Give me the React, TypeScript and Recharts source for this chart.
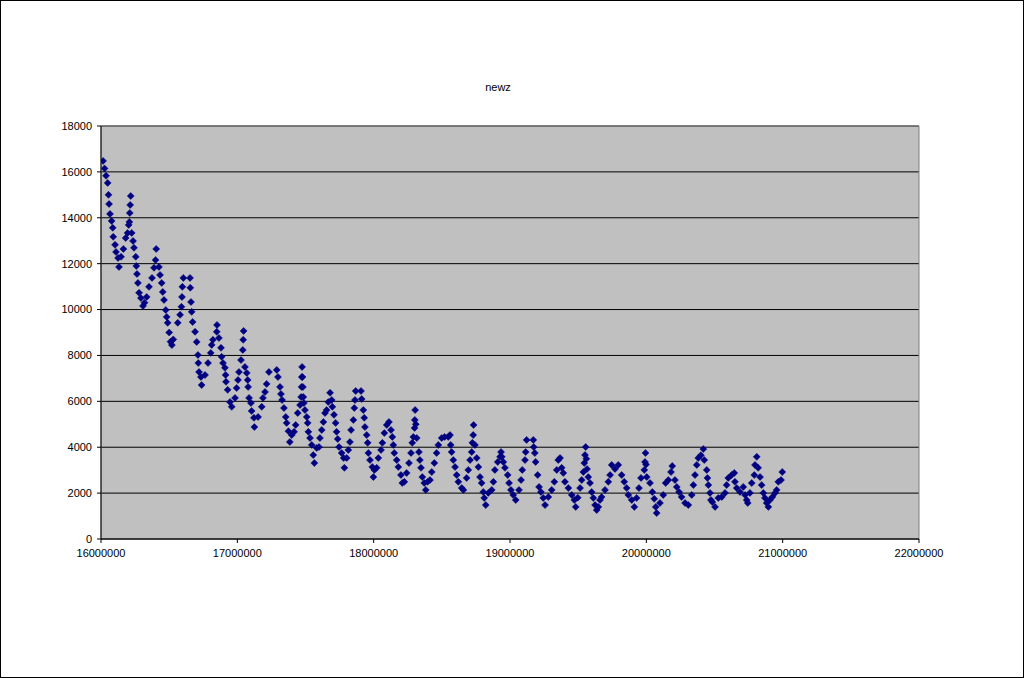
import { CartesianGrid, ReferenceArea, Scatter, ScatterChart, XAxis, YAxis } from "recharts";

// positions along the x axis
const xs = [
  16015000, 16026000, 16037000, 16049000, 16055000, 16059000, 16066000, 16078000, 16086000, 16090000,
  16103000, 16110000, 16125000, 16132000, 16147000, 16164000, 16181000, 16195000, 16203000, 16208000,
  16211000, 16214000, 16218000, 16225000, 16235000, 16242000, 16255000, 16259000, 16264000, 16271000,
  16279000, 16293000, 16308000, 16319000, 16335000, 16352000, 16374000, 16389000, 16400000, 16405000,
  16425000, 16433000, 16445000, 16453000, 16462000, 16475000, 16482000, 16489000, 16500000, 16510000,
  16520000, 16530000, 16563000, 16580000, 16590000, 16594000, 16597000, 16604000, 16653000, 16655000,
  16660000, 16665000, 16672000, 16690000, 16702000, 16711000, 16714000, 16719000, 16733000, 16738000,
  16763000, 16785000, 16805000, 16812000, 16821000, 16849000, 16851000, 16865000, 16880000, 16885000,
  16895000, 16909000, 16914000, 16917000, 16929000, 16946000, 16959000, 16983000, 16995000, 17005000,
  17012000, 17027000, 17040000, 17043000, 17046000, 17056000, 17069000, 17076000, 17079000, 17086000,
  17100000, 17105000, 17122000, 17125000, 17152000, 17179000, 17188000, 17203000, 17215000, 17232000,
  17289000, 17298000, 17313000, 17320000, 17328000, 17342000, 17355000, 17362000, 17375000, 17385000,
  17399000, 17416000, 17428000, 17443000, 17460000, 17468000, 17471000, 17473000, 17475000, 17478000,
  17481000, 17484000, 17488000, 17496000, 17509000, 17516000, 17521000, 17533000, 17546000, 17557000,
  17565000, 17582000, 17599000, 17606000, 17619000, 17631000, 17643000, 17655000, 17667000, 17680000,
  17692000, 17697000, 17709000, 17721000, 17728000, 17736000, 17746000, 17765000, 17780000, 17785000,
  17802000, 17814000, 17826000, 17834000, 17851000, 17858000, 17863000, 17868000, 17907000, 17912000,
  17924000, 17931000, 17936000, 17949000, 17956000, 17961000, 17973000, 17990000, 17998000, 18005000,
  18022000, 18034000, 18054000, 18064000, 18078000, 18096000, 18112000, 18127000, 18137000, 18144000,
  18151000, 18169000, 18181000, 18200000, 18210000, 18225000, 18242000, 18259000, 18274000, 18283000,
  18291000, 18300000, 18302000, 18304000, 18309000, 18316000, 18332000, 18339000, 18347000, 18357000,
  18371000, 18382000, 18396000, 18413000, 18426000, 18445000, 18462000, 18474000, 18499000, 18520000,
  18547000, 18560000, 18565000, 18572000, 18584000, 18597000, 18609000, 18621000, 18646000, 18658000,
  18682000, 18694000, 18707000, 18719000, 18724000, 18730000, 18733000, 18743000, 18756000, 18768000,
  18780000, 18792000, 18804000, 18811000, 18822000, 18841000, 18866000, 18878000, 18889000, 18910000,
  18927000, 18934000, 18940000, 18951000, 18963000, 18983000, 18993000, 19007000, 19024000, 19042000,
  19066000, 19081000, 19090000, 19110000, 19115000, 19122000, 19171000, 19174000, 19182000, 19188000,
  19203000, 19213000, 19227000, 19244000, 19257000, 19281000, 19306000, 19325000, 19343000, 19354000,
  19367000, 19379000, 19391000, 19403000, 19428000, 19453000, 19472000, 19482000, 19497000, 19514000,
  19526000, 19538000, 19545000, 19550000, 19555000, 19560000, 19565000, 19574000, 19587000, 19599000,
  19611000, 19624000, 19636000, 19648000, 19660000, 19672000, 19697000, 19721000, 19734000, 19746000,
  19770000, 19794000, 19819000, 19838000, 19856000, 19868000, 19893000, 19912000, 19929000, 19946000,
  19961000, 19985000, 19990000, 19994000, 19998000, 20003000, 20027000, 20044000, 20058000, 20069000,
  20076000, 20100000, 20124000, 20142000, 20161000, 20181000, 20190000, 20210000, 20223000, 20240000,
  20259000, 20284000, 20308000, 20333000, 20345000, 20357000, 20370000, 20381000, 20400000, 20418000,
  20425000, 20443000, 20448000, 20455000, 20467000, 20474000, 20484000, 20504000, 20528000, 20553000,
  20577000, 20589000, 20601000, 20626000, 20645000, 20650000, 20663000, 20687000, 20711000, 20724000,
  20736000, 20744000, 20760000, 20773000, 20792000, 20797000, 20810000, 20820000, 20834000, 20846000,
  20858000, 20870000, 20883000, 20895000, 20907000, 20924000, 20944000, 20956000, 20968000, 20988000,
  20997000,
];

// newz values, same order as xs
const newz = [
  16480, 16150, 15830, 15520, 15000, 14600, 14170, 13860, 13560, 13170,
  12820, 12510, 12250, 11860, 12300, 12640, 13120, 13340, 13690, 13820,
  14210, 14560, 14950, 13340, 12990, 12690, 12300, 11900, 11550, 11160,
  10730, 10500, 10160, 10300, 10550, 10990, 11380, 11820, 12160, 12640,
  11860, 11510, 11160, 10770, 10420, 9980, 9680, 9420, 9000, 8600,
  8450, 8700, 9420, 9770, 10120, 10550, 10990, 11380, 11380, 10950,
  10330, 9900, 9460, 9030, 8590, 8020, 7670, 7280, 7060, 6710,
  7150, 7670, 8110, 8460, 8680, 9030, 9330, 8760, 8330, 7940,
  7670, 7460, 7150, 6850, 6500, 5970, 5760, 6150, 6580, 6930,
  7280, 7800, 8240, 8680, 9070, 7500, 7240, 6930, 6630, 6150,
  5930, 5580, 5280, 4880, 5320, 5760, 6150, 6410, 6760, 7280,
  7370, 7060, 6630, 6320, 6060, 5710, 5320, 5060, 4700, 4230,
  4530, 4670, 4970, 5490, 5840, 6190, 6630, 7060, 7500, 7060,
  6630, 6190, 5930, 5620, 5320, 5060, 4670, 4400, 4100, 3660,
  3310, 3970, 4010, 4400, 4750, 5100, 5490, 5620, 5970, 6370,
  6060, 5760, 5410, 5060, 4670, 4360, 4010, 3750, 3530, 3100,
  3530, 3880, 4230, 4750, 5190, 5710, 6060, 6450, 6450, 6100,
  5620, 5280, 4880, 4530, 4190, 3750, 3440, 3140, 2700, 3010,
  3100, 3530, 3880, 4190, 4620, 4970, 5100, 4750, 4450, 4100,
  3750, 3440, 3140, 2790, 2440, 2490, 2880, 3310, 3750, 4190,
  4450, 4840, 5190, 5620, 5000, 4400, 3790, 3440, 3100, 2700,
  2440, 2140, 2490, 2570, 2920, 3310, 3750, 4100, 4400, 4450,
  4450, 4530, 4100, 3790, 3440, 3140, 2790, 2490, 2220, 2140,
  2660, 3010, 3440, 3790, 4190, 4530, 4970, 4100, 3530, 3140,
  2700, 2440, 2050, 1790, 1480, 2010, 2140, 2490, 3010, 3360,
  3580, 3790, 3580, 3360, 3100, 2790, 2440, 2140, 1920, 1700,
  2140, 2570, 3010, 3440, 3790, 4320, 4320, 4010, 3750, 3360,
  2790, 2270, 2050, 1790, 1480, 1830, 2140, 2490, 3010, 3440,
  3530, 3100, 2880, 2490, 2220, 1920, 1700, 1400, 1800, 2220,
  2570, 2920, 3310, 3660, 4010, 3500, 3050, 2700, 2440, 2050,
  1790, 1480, 1260, 1400, 1700, 1830, 2140, 2490, 2790, 3230,
  3050, 3230, 2790, 2490, 2220, 1920, 1700, 1400, 1790, 2220,
  2660, 3010, 3360, 3750, 3250, 2700, 2440, 2050, 1750, 1400,
  1130, 1570, 1920, 2440, 2570, 2920, 3180, 2570, 2270, 2050,
  1830, 1570, 1480, 1920, 2350, 2790, 3230, 3530, 3650, 3920,
  3440, 3010, 2660, 2350, 2010, 1700, 1610, 1400, 1790, 1830,
  2010, 2350, 2660, 2790, 2880, 2490, 2220, 2050, 2270, 1920,
  1700, 1570, 2010, 2440, 2790, 3230, 3580, 3100, 2700, 2350,
  2010, 1790, 1570, 1400, 1700, 1830, 2010, 2140, 2490, 2570,
  2920,
];

const xTicks = [16000000, 17000000, 18000000, 19000000, 20000000, 21000000, 22000000];
const yTicks = [0, 2000, 4000, 6000, 8000, 10000, 12000, 14000, 16000, 18000];

const points = xs.map((x, i) => ({ x, y: newz[i] }));

const tickStyle = { fill: "#000", fontSize: 11, fontFamily: "'Liberation Sans', Arial, sans-serif" };

// excel-ish diamond marker
const Diamond = (props: any) => {
  const { cx, cy } = props;
  if (cx == null || cy == null) return null;
  const r = 3.5;
  return (
    <polygon
      points={`${cx},${cy - r} ${cx + r},${cy} ${cx},${cy + r} ${cx - r},${cy}`}
      fill="#000080"
      stroke="#000080"
      strokeWidth={0.5}
    />
  );
};

export default function App() {
  return (
    <div
      style={{
        position: "absolute",
        left: 0,
        top: 0,
        width: 1024,
        height: 678,
        background: "#fff",
        border: "1px solid #000",
        boxSizing: "border-box",
        fontFamily: "'Liberation Sans', Arial, sans-serif"
      }}
    >
      <div
        style={{
          position: "absolute",
          left: 0,
          width: 994,
          top: 80,
          textAlign: "center",
          fontSize: 11,
          color: "#000"
        }}
      >
        newz
      </div>
      <div style={{ position: "absolute", left: -1, top: -1 }}>
        <ScatterChart width={1024} height={678} margin={{ top: 126, right: 105, left: 41, bottom: 109 }}>
          <CartesianGrid
            vertical={false}
            stroke="#000"
            strokeWidth={1}
            fill="#C0C0C0"
            fillOpacity={1}
          />
          <XAxis
            dataKey="x"
            type="number"
            domain={[16000000, 22000000]}
            ticks={xTicks}
            allowDataOverflow
            height={30}
            tickSize={4}
            tickMargin={6}
            tick={tickStyle}
            stroke="#000"
            tickFormatter={(v: number) => String(v)}
          />
          <YAxis
            dataKey="y"
            type="number"
            domain={[0, 18000]}
            ticks={yTicks}
            allowDataOverflow
            width={60}
            tickSize={4}
            tickMargin={5}
            tick={tickStyle}
            stroke="#000"
            tickFormatter={(v: number) => String(v)}
          />
          <ReferenceArea
            x1={16000000}
            x2={22000000}
            y1={0}
            y2={18000}
            fill="none"
            stroke="#808080"
            strokeWidth={1}
          />
          <Scatter data={points} shape={Diamond} isAnimationActive={false} />
        </ScatterChart>
      </div>
    </div>
  );
}
